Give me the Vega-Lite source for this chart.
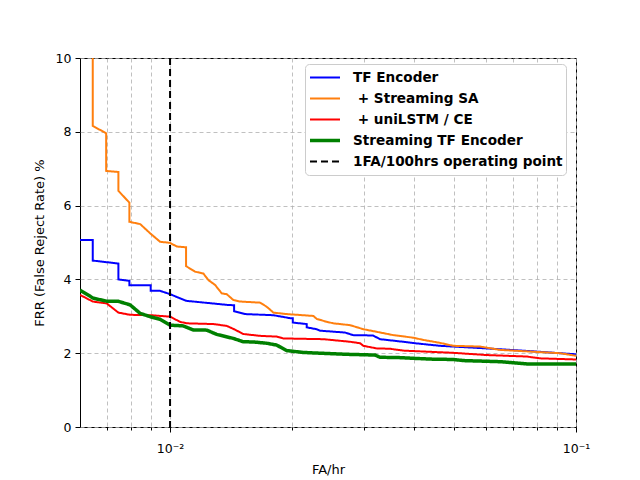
{
  "$schema": "https://vega.github.io/schema/vega-lite/v6.json",
  "width": 496,
  "height": 369,
  "autosize": {"type": "none"},
  "padding": {"left": 80, "top": 58, "right": 64, "bottom": 53},
  "background": "white",
  "config": {
    "view": {"stroke": "black", "strokeWidth": 1},
    "font": "DejaVu Sans",
    "axis": {
      "domain": false,
      "tickColor": "black",
      "labelColor": "black",
      "titleColor": "black",
      "labelFont": "DejaVu Sans",
      "titleFont": "DejaVu Sans",
      "labelFontSize": 12.5,
      "titleFontSize": 13,
      "titleFontWeight": "normal",
      "gridColor": "#b0b0b0",
      "gridDash": [4, 3],
      "gridWidth": 0.8
    }
  },
  "data": {
    "values": [
      {"fa": 0.006, "frr": 5.07, "series": "TF Encoder"},
      {"fa": 0.00645, "frr": 5.07, "series": "TF Encoder"},
      {"fa": 0.00645, "frr": 4.51, "series": "TF Encoder"},
      {"fa": 0.00746, "frr": 4.43, "series": "TF Encoder"},
      {"fa": 0.00746, "frr": 4.0, "series": "TF Encoder"},
      {"fa": 0.00794, "frr": 3.96, "series": "TF Encoder"},
      {"fa": 0.00794, "frr": 3.84, "series": "TF Encoder"},
      {"fa": 0.00896, "frr": 3.84, "series": "TF Encoder"},
      {"fa": 0.00896, "frr": 3.69, "series": "TF Encoder"},
      {"fa": 0.00945, "frr": 3.69, "series": "TF Encoder"},
      {"fa": 0.01, "frr": 3.6, "series": "TF Encoder"},
      {"fa": 0.01095, "frr": 3.42, "series": "TF Encoder"},
      {"fa": 0.01379, "frr": 3.31, "series": "TF Encoder"},
      {"fa": 0.01438, "frr": 3.3, "series": "TF Encoder"},
      {"fa": 0.01438, "frr": 3.14, "series": "TF Encoder"},
      {"fa": 0.0153, "frr": 3.06, "series": "TF Encoder"},
      {"fa": 0.01797, "frr": 3.03, "series": "TF Encoder"},
      {"fa": 0.01975, "frr": 2.95, "series": "TF Encoder"},
      {"fa": 0.02006, "frr": 2.95, "series": "TF Encoder"},
      {"fa": 0.02006, "frr": 2.83, "series": "TF Encoder"},
      {"fa": 0.02171, "frr": 2.79, "series": "TF Encoder"},
      {"fa": 0.02171, "frr": 2.7, "series": "TF Encoder"},
      {"fa": 0.02298, "frr": 2.65, "series": "TF Encoder"},
      {"fa": 0.02342, "frr": 2.61, "series": "TF Encoder"},
      {"fa": 0.02698, "frr": 2.56, "series": "TF Encoder"},
      {"fa": 0.02823, "frr": 2.49, "series": "TF Encoder"},
      {"fa": 0.03162, "frr": 2.48, "series": "TF Encoder"},
      {"fa": 0.0329, "frr": 2.38, "series": "TF Encoder"},
      {"fa": 0.03749, "frr": 2.31, "series": "TF Encoder"},
      {"fa": 0.04013, "frr": 2.27, "series": "TF Encoder"},
      {"fa": 0.04624, "frr": 2.2, "series": "TF Encoder"},
      {"fa": 0.06026, "frr": 2.13, "series": "TF Encoder"},
      {"fa": 0.0785, "frr": 2.05, "series": "TF Encoder"},
      {"fa": 0.1, "frr": 1.97, "series": "TF Encoder"},

      {"fa": 0.00645, "frr": 14, "series": "+ Streaming SA"},
      {"fa": 0.00645, "frr": 8.16, "series": "+ Streaming SA"},
      {"fa": 0.00696, "frr": 7.96, "series": "+ Streaming SA"},
      {"fa": 0.00696, "frr": 6.94, "series": "+ Streaming SA"},
      {"fa": 0.00746, "frr": 6.91, "series": "+ Streaming SA"},
      {"fa": 0.00746, "frr": 6.4, "series": "+ Streaming SA"},
      {"fa": 0.00794, "frr": 6.08, "series": "+ Streaming SA"},
      {"fa": 0.00794, "frr": 5.56, "series": "+ Streaming SA"},
      {"fa": 0.00844, "frr": 5.5, "series": "+ Streaming SA"},
      {"fa": 0.00893, "frr": 5.25, "series": "+ Streaming SA"},
      {"fa": 0.00945, "frr": 5.02, "series": "+ Streaming SA"},
      {"fa": 0.01, "frr": 4.99, "series": "+ Streaming SA"},
      {"fa": 0.01039, "frr": 4.89, "series": "+ Streaming SA"},
      {"fa": 0.01095, "frr": 4.87, "series": "+ Streaming SA"},
      {"fa": 0.01095, "frr": 4.36, "series": "+ Streaming SA"},
      {"fa": 0.01152, "frr": 4.21, "series": "+ Streaming SA"},
      {"fa": 0.01208, "frr": 4.16, "series": "+ Streaming SA"},
      {"fa": 0.01243, "frr": 3.98, "series": "+ Streaming SA"},
      {"fa": 0.01291, "frr": 3.85, "series": "+ Streaming SA"},
      {"fa": 0.01341, "frr": 3.62, "series": "+ Streaming SA"},
      {"fa": 0.01379, "frr": 3.6, "series": "+ Streaming SA"},
      {"fa": 0.01432, "frr": 3.44, "series": "+ Streaming SA"},
      {"fa": 0.01487, "frr": 3.4, "series": "+ Streaming SA"},
      {"fa": 0.01666, "frr": 3.37, "series": "+ Streaming SA"},
      {"fa": 0.0173, "frr": 3.26, "series": "+ Streaming SA"},
      {"fa": 0.01797, "frr": 3.1, "series": "+ Streaming SA"},
      {"fa": 0.01938, "frr": 3.06, "series": "+ Streaming SA"},
      {"fa": 0.02254, "frr": 3.01, "series": "+ Streaming SA"},
      {"fa": 0.02298, "frr": 2.93, "series": "+ Streaming SA"},
      {"fa": 0.02432, "frr": 2.85, "series": "+ Streaming SA"},
      {"fa": 0.02525, "frr": 2.81, "series": "+ Streaming SA"},
      {"fa": 0.02776, "frr": 2.76, "series": "+ Streaming SA"},
      {"fa": 0.02993, "frr": 2.65, "series": "+ Streaming SA"},
      {"fa": 0.03229, "frr": 2.58, "series": "+ Streaming SA"},
      {"fa": 0.03548, "frr": 2.49, "series": "+ Streaming SA"},
      {"fa": 0.03975, "frr": 2.42, "series": "+ Streaming SA"},
      {"fa": 0.04206, "frr": 2.36, "series": "+ Streaming SA"},
      {"fa": 0.04624, "frr": 2.28, "series": "+ Streaming SA"},
      {"fa": 0.04986, "frr": 2.2, "series": "+ Streaming SA"},
      {"fa": 0.058, "frr": 2.18, "series": "+ Streaming SA"},
      {"fa": 0.065, "frr": 2.09, "series": "+ Streaming SA"},
      {"fa": 0.0785, "frr": 2.04, "series": "+ Streaming SA"},
      {"fa": 0.09133, "frr": 2.0, "series": "+ Streaming SA"},
      {"fa": 0.1, "frr": 1.93, "series": "+ Streaming SA"},

      {"fa": 0.006, "frr": 3.58, "series": "+ uniLSTM / CE"},
      {"fa": 0.00645, "frr": 3.4, "series": "+ uniLSTM / CE"},
      {"fa": 0.00698, "frr": 3.35, "series": "+ uniLSTM / CE"},
      {"fa": 0.00746, "frr": 3.1, "series": "+ uniLSTM / CE"},
      {"fa": 0.00797, "frr": 3.04, "series": "+ uniLSTM / CE"},
      {"fa": 0.00896, "frr": 3.03, "series": "+ uniLSTM / CE"},
      {"fa": 0.01, "frr": 2.99, "series": "+ uniLSTM / CE"},
      {"fa": 0.01058, "frr": 2.85, "series": "+ uniLSTM / CE"},
      {"fa": 0.01099, "frr": 2.81, "series": "+ uniLSTM / CE"},
      {"fa": 0.01279, "frr": 2.79, "series": "+ uniLSTM / CE"},
      {"fa": 0.01379, "frr": 2.74, "series": "+ uniLSTM / CE"},
      {"fa": 0.01438, "frr": 2.65, "series": "+ uniLSTM / CE"},
      {"fa": 0.01515, "frr": 2.52, "series": "+ uniLSTM / CE"},
      {"fa": 0.01666, "frr": 2.47, "series": "+ uniLSTM / CE"},
      {"fa": 0.01831, "frr": 2.45, "series": "+ uniLSTM / CE"},
      {"fa": 0.01901, "frr": 2.4, "series": "+ uniLSTM / CE"},
      {"fa": 0.02386, "frr": 2.38, "series": "+ uniLSTM / CE"},
      {"fa": 0.02776, "frr": 2.31, "series": "+ uniLSTM / CE"},
      {"fa": 0.02938, "frr": 2.27, "series": "+ uniLSTM / CE"},
      {"fa": 0.02993, "frr": 2.2, "series": "+ uniLSTM / CE"},
      {"fa": 0.03229, "frr": 2.13, "series": "+ uniLSTM / CE"},
      {"fa": 0.03483, "frr": 2.12, "series": "+ uniLSTM / CE"},
      {"fa": 0.03755, "frr": 2.07, "series": "+ uniLSTM / CE"},
      {"fa": 0.04986, "frr": 2.01, "series": "+ uniLSTM / CE"},
      {"fa": 0.06026, "frr": 1.95, "series": "+ uniLSTM / CE"},
      {"fa": 0.07562, "frr": 1.91, "series": "+ uniLSTM / CE"},
      {"fa": 0.08154, "frr": 1.86, "series": "+ uniLSTM / CE"},
      {"fa": 0.1, "frr": 1.83, "series": "+ uniLSTM / CE"},

      {"fa": 0.006, "frr": 3.71, "series": "Streaming TF Encoder"},
      {"fa": 0.00647, "frr": 3.49, "series": "Streaming TF Encoder"},
      {"fa": 0.00698, "frr": 3.41, "series": "Streaming TF Encoder"},
      {"fa": 0.00746, "frr": 3.405, "series": "Streaming TF Encoder"},
      {"fa": 0.00797, "frr": 3.31, "series": "Streaming TF Encoder"},
      {"fa": 0.00844, "frr": 3.08, "series": "Streaming TF Encoder"},
      {"fa": 0.00893, "frr": 2.99, "series": "Streaming TF Encoder"},
      {"fa": 0.00945, "frr": 2.92, "series": "Streaming TF Encoder"},
      {"fa": 0.01, "frr": 2.76, "series": "Streaming TF Encoder"},
      {"fa": 0.01078, "frr": 2.74, "series": "Streaming TF Encoder"},
      {"fa": 0.01141, "frr": 2.63, "series": "Streaming TF Encoder"},
      {"fa": 0.01231, "frr": 2.625, "series": "Streaming TF Encoder"},
      {"fa": 0.01303, "frr": 2.51, "series": "Streaming TF Encoder"},
      {"fa": 0.01432, "frr": 2.4, "series": "Streaming TF Encoder"},
      {"fa": 0.01515, "frr": 2.31, "series": "Streaming TF Encoder"},
      {"fa": 0.01604, "frr": 2.305, "series": "Streaming TF Encoder"},
      {"fa": 0.0173, "frr": 2.27, "series": "Streaming TF Encoder"},
      {"fa": 0.01831, "frr": 2.22, "series": "Streaming TF Encoder"},
      {"fa": 0.01938, "frr": 2.07, "series": "Streaming TF Encoder"},
      {"fa": 0.0213, "frr": 2.02, "series": "Streaming TF Encoder"},
      {"fa": 0.02342, "frr": 2.0, "series": "Streaming TF Encoder"},
      {"fa": 0.02724, "frr": 1.97, "series": "Streaming TF Encoder"},
      {"fa": 0.03198, "frr": 1.95, "series": "Streaming TF Encoder"},
      {"fa": 0.0329, "frr": 1.89, "series": "Streaming TF Encoder"},
      {"fa": 0.03686, "frr": 1.88, "series": "Streaming TF Encoder"},
      {"fa": 0.04369, "frr": 1.84, "series": "Streaming TF Encoder"},
      {"fa": 0.04986, "frr": 1.83, "series": "Streaming TF Encoder"},
      {"fa": 0.05278, "frr": 1.8, "series": "Streaming TF Encoder"},
      {"fa": 0.065, "frr": 1.77, "series": "Streaming TF Encoder"},
      {"fa": 0.07562, "frr": 1.71, "series": "Streaming TF Encoder"},
      {"fa": 0.1, "frr": 1.705, "series": "Streaming TF Encoder"},

      {"fa": 0.01, "frr": null, "series": "1FA/100hrs operating point"}
    ]
  },
  "encoding": {
    "x": {
      "field": "fa",
      "type": "quantitative",
      "title": "FA/hr",
      "scale": {"type": "log", "domain": [0.006, 0.1], "nice": false},
      "axis": {
        "values": [0.007, 0.008, 0.009, 0.01, 0.02, 0.03, 0.04, 0.05, 0.06, 0.07, 0.08, 0.09, 0.1],
        "labelExpr": "datum.value == 0.01 ? '10⁻²' : (datum.value == 0.1 ? '10⁻¹' : '')",
        "tickSize": {"condition": {"test": "datum.value == 0.01 || datum.value == 0.1", "value": 5}, "value": 3},
        "labelPadding": 10,
        "titlePadding": 9,
        "grid": true,
        "labelFlush": false
      }
    },
    "color": {
      "field": "series",
      "type": "nominal",
      "scale": {
        "domain": ["TF Encoder", "+ Streaming SA", "+ uniLSTM / CE", "Streaming TF Encoder", "1FA/100hrs operating point"],
        "range": ["#0000ff", "#ff7f0e", "#ff0000", "#008000", "#000000"]
      },
      "legend": {
        "title": null,
        "orient": "none",
        "legendX": 225,
        "legendY": 6,
        "symbolType": "stroke",
        "symbolSize": 900,
        "clipHeight": 21,
        "rowPadding": 0,
        "padding": 3,
        "labelOffset": 11,
        "labelFont": "DejaVu Sans",
        "labelFontSize": 13.6,
        "labelFontWeight": "bold",
        "labelColor": "black",
        "labelExpr": "(indexof(datum.label, '+') == 0 ? '\u200b + ' + substring(datum.label, 2) : datum.label)",
        "fillColor": "white",
        "strokeColor": "#cccccc",
        "cornerRadius": 4,
        "labelLimit": 400
      }
    },
    "strokeDash": {
      "field": "series",
      "type": "nominal",
      "scale": {
        "domain": ["TF Encoder", "+ Streaming SA", "+ uniLSTM / CE", "Streaming TF Encoder", "1FA/100hrs operating point"],
        "range": [[1, 0], [1, 0], [1, 0], [1, 0], [7, 4]]
      }
    },
    "strokeWidth": {
      "field": "series",
      "type": "nominal",
      "scale": {
        "type": "ordinal",
        "domain": ["TF Encoder", "+ Streaming SA", "+ uniLSTM / CE", "Streaming TF Encoder", "1FA/100hrs operating point"],
        "range": [2, 2, 2, 3.5, 2]
      }
    }
  },
  "layer": [
    {
      "transform": [{"filter": "datum.series != '1FA/100hrs operating point'"}],
      "mark": {"type": "line", "clip": true},
      "encoding": {
        "y": {
          "field": "frr",
          "type": "quantitative",
          "title": "FRR (False Reject Rate) %",
          "scale": {"domain": [0, 10], "nice": false},
          "axis": {
            "values": [0, 2, 4, 6, 8, 10],
            "tickSize": 5,
            "labelPadding": 4,
            "titlePadding": 9,
            "grid": true
          }
        },
        "order": [
          {"field": "fa", "type": "quantitative"},
          {"field": "frr", "type": "quantitative", "sort": "descending"}
        ]
      }
    },
    {
      "transform": [{"filter": "datum.series == '1FA/100hrs operating point'"}],
      "mark": {"type": "rule"},
      "encoding": {}
    }
  ]
}
